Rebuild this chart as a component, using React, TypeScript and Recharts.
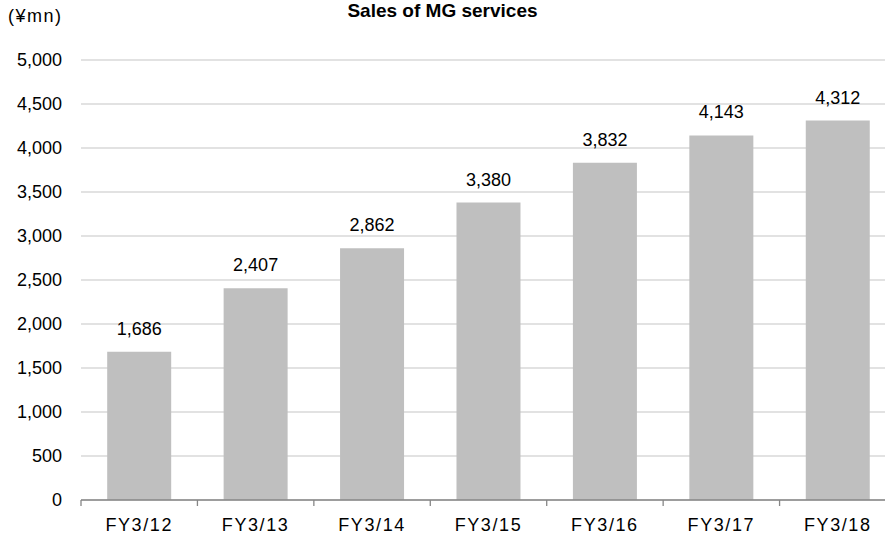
import { Bar, BarChart, CartesianGrid, LabelList, XAxis, YAxis } from "recharts";

const years = ["FY3/12", "FY3/13", "FY3/14", "FY3/15", "FY3/16", "FY3/17", "FY3/18"];
const sales = [1686, 2407, 2862, 3380, 3832, 4143, 4312];
const yTicks = [0, 500, 1000, 1500, 2000, 2500, 3000, 3500, 4000, 4500, 5000];

const data = years.map((year, i) => ({ year, sales: sales[i] }));

const FONT = "'Liberation Sans', Arial, sans-serif";
const fmt = (v: number) => v.toLocaleString("en-US");

const CHART_W = 900;
const MARGIN = { top: 60, right: 4, left: 0, bottom: 0 };
const Y_AXIS_W = 81;
const HALF_BAND = (CHART_W - MARGIN.left - MARGIN.right - Y_AXIS_W) / years.length / 2;

// x tick: label under the category, small tick mark on the left boundary
const XTick = (props: any) => {
  const { x, y, payload } = props;
  const half = payload?.offset || HALF_BAND;
  return (
    <g>
      <line x1={x - half} x2={x - half} y1={y} y2={y + 6} stroke="#868686" strokeWidth={1.3} />
      <text
        x={x}
        y={y + 31}
        textAnchor="middle"
        fill="#000"
        fontSize={18}
        fontFamily={FONT}
        letterSpacing={1.6}
      >
        {payload.value}
      </text>
    </g>
  );
};

export default function App() {
  return (
    <div
      style={{
        position: "absolute",
        left: 0,
        top: 0,
        width: 885,
        height: 536,
        overflow: "hidden",
        background: "#fff",
        fontFamily: FONT,
      }}
    >
      <div style={{ position: "absolute", left: 8, top: 6, fontSize: 18, letterSpacing: 1.5, color: "#000" }}>
        (¥mn)
      </div>
      <div
        style={{
          position: "absolute",
          left: 0,
          width: 885,
          top: 0,
          textAlign: "center",
          fontSize: 19,
          fontWeight: "bold",
          color: "#000",
        }}
      >
        Sales of MG services
      </div>
      <BarChart width={CHART_W} height={536} data={data} margin={MARGIN} barCategoryGap="22.5%">
        <CartesianGrid vertical={false} stroke="#D9D9D9" strokeWidth={1.3} />
        <XAxis
          dataKey="year"
          height={36}
          tickLine={false}
          tickSize={0}
          tickMargin={0}
          axisLine={{ stroke: "#868686", strokeWidth: 1.3 }}
          tick={<XTick />}
          interval={0}
        />
        <YAxis
          width={Y_AXIS_W}
          domain={[0, 5000]}
          ticks={yTicks}
          tickFormatter={fmt}
          axisLine={false}
          tickLine={false}
          tickSize={0}
          tickMargin={19}
          tick={{ fill: "#000", fontSize: 18, fontFamily: FONT }}
          interval={0}
        />
        <Bar dataKey="sales" fill="#BFBFBF" isAnimationActive={false}>
          <LabelList
            dataKey="sales"
            position="top"
            offset={17}
            formatter={(v: any) => fmt(Number(v))}
            fill="#000"
            fontSize={18}
            fontFamily={FONT}
          />
        </Bar>
      </BarChart>
    </div>
  );
}
